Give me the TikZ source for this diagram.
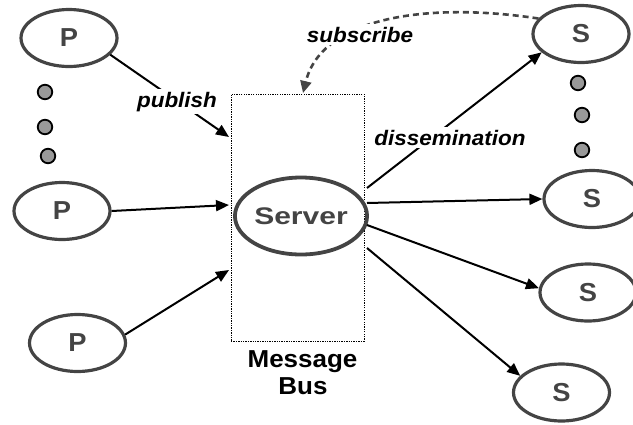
\documentclass[tikz,border=0pt]{standalone}
\usepackage{fontspec}
\usepackage{graphicx}
\setmainfont{Liberation Sans}
\usetikzlibrary{arrows.meta,shapes.geometric}
\definecolor{ink}{HTML}{444444}
\definecolor{dotgray}{HTML}{999999}
\begin{document}
\begin{tikzpicture}[x=1pt,y=-1pt,
  peer/.style={ellipse, draw=ink, line width=3.2pt, minimum width=96pt,
    minimum height=57pt, inner sep=0pt, text=ink,
    font=\fontsize{26}{30}\selectfont\bfseries},
  hub/.style={ellipse, draw=ink, line width=3.8pt, minimum width=110pt,
    minimum height=77pt, inner sep=0pt, text=ink,
    font=\fontsize{24}{28}\selectfont\bfseries},
  busbox/.style={draw=black, line width=0.9pt, dash pattern=on 1.3pt off 1.1pt,
    minimum width=133pt, minimum height=247pt, inner sep=0pt},
  gapdot/.style={circle, draw=black, fill=dotgray, line width=1.8pt,
    minimum size=14.5pt, inner sep=0pt},
  flow/.style={line width=2pt, -{Triangle[length=13pt,width=11pt]}},
  subflow/.style={draw=ink, line width=2.6pt, dash pattern=on 6pt off 4pt,
    -{Triangle[length=12pt,width=11pt,fill=ink]}},
  tag/.style={fill=white, inner sep=3pt, anchor=base,
    font=\fontsize{21}{25}\selectfont\bfseries\itshape},
  caption/.style={anchor=base, inner sep=0pt,
    font=\fontsize{24.5}{27}\selectfont\bfseries}
]
\useasboundingbox (0,0) rectangle (633,424);

% message bus with the server inside
\node[busbox] (bus) at (297.5,217.5) {};
\node[hub] (server) at (301,216) {\scalebox{1.25}[1]{Server}};
\node[caption] (buslabel1) at (302.5,367) {\scalebox{1.06}[1]{Message}};
\node[caption] (buslabel2) at (303,394) {\scalebox{1.06}[1]{Bus}};

% publishers
\node[peer] (P1) at (69,38) {\scalebox{1.05}[1]{P}};
\node[peer] (P2) at (62,211) {\scalebox{1.05}[1]{P}};
\node[peer] (P3) at (77.5,343) {\scalebox{1.05}[1]{P}};
\node[gapdot] (pd1) at (45,92) {};
\node[gapdot] (pd2) at (45,127) {};
\node[gapdot] (pd3) at (48,156) {};

% subscribers
\node[peer] (S1) at (581,34) {\scalebox{1.05}[1]{S}};
\node[peer] (S2) at (592,199) {\scalebox{1.05}[1]{S}};
\node[peer] (S3) at (588,292.5) {\scalebox{1.05}[1]{S}};
\node[peer] (S4) at (561.5,392.5) {\scalebox{1.05}[1]{S}};
\node[gapdot] (sd1) at (578,83) {};
\node[gapdot] (sd2) at (582,115) {};
\node[gapdot] (sd3) at (582,150) {};

% attachment points on the bus border
\coordinate (in1) at (229,137);
\coordinate (in2) at (229,205);
\coordinate (in3) at (229,270);
\coordinate (out1) at (367,188);
\coordinate (out2) at (367,203);
\coordinate (out3) at (367,225);
\coordinate (out4) at (367,248);
\coordinate (subin) at (303,93);

% publish
\draw[flow] (P1.338) -- (in1);
\draw[flow] (P2.east) -- (in2);
\draw[flow] (P3.10) -- (in3);

% dissemination
\draw[flow] (out1) -- (S1.205);
\draw[flow] (out2) -- (S2.west);
\draw[flow] (out3) -- (S3.175);
\draw[flow] (out4) -- (S4.158);

% subscription request
\draw[subflow] (S1.160) .. controls (430,2) and (322,16) .. (subin);

% labels over the connectors
\node[tag] (publish) at (177,107) {\scalebox{1.07}[1]{publish}};
\node[tag] (subscribe) at (360,42) {\scalebox{1.07}[1]{subscribe}};
\node[tag] (dissem) at (450,145) {\scalebox{1.07}[1]{dissemination}};
\end{tikzpicture}
\end{document}
